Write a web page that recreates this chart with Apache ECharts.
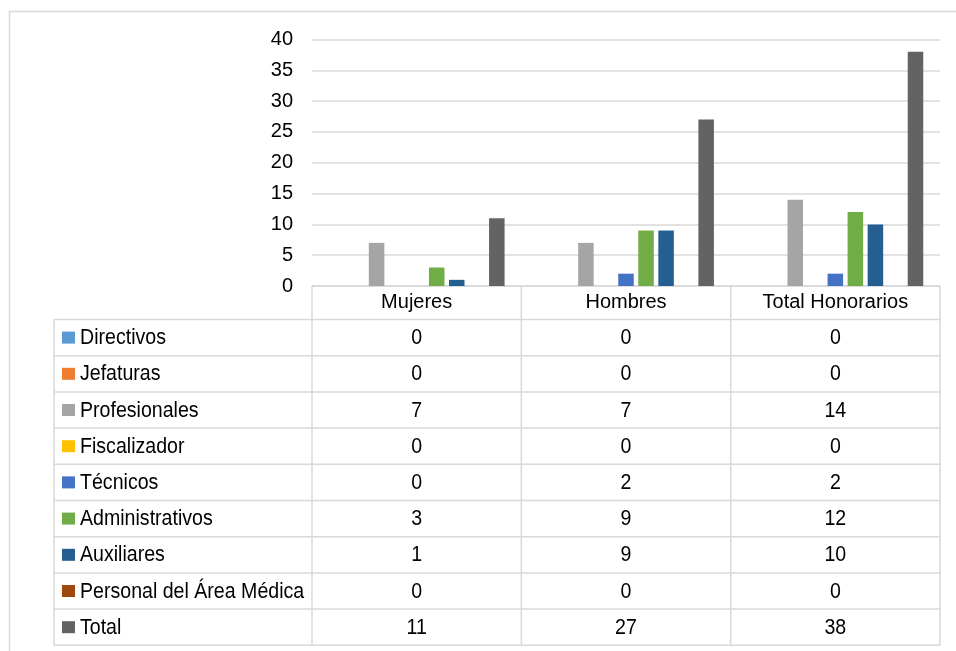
<!DOCTYPE html>
<html>
<head>
<meta charset="utf-8">
<script src="https://cdn.jsdelivr.net/npm/echarts@6/dist/echarts.min.js"></script>
<style>
html,body{margin:0;padding:0;background:#fff;}
#main{width:956px;height:651px;}
</style>
</head>
<body>
<div id="main"></div>
<script>
// ---- Data ----
const categories = ['Mujeres', 'Hombres', 'Total Honorarios'];
const seriesNames = ['Directivos', 'Jefaturas', 'Profesionales', 'Fiscalizador', 'Técnicos', 'Administrativos', 'Auxiliares', 'Personal del Área Médica', 'Total'];
const directivos = [0, 0, 0];
const jefaturas = [0, 0, 0];
const profesionales = [7, 7, 14];
const fiscalizador = [0, 0, 0];
const tecnicos = [0, 2, 2];
const administrativos = [3, 9, 12];
const auxiliares = [1, 9, 10];
const personalMedico = [0, 0, 0];
const total = [11, 27, 38];
const yTicks = { min: 0, max: 40, interval: 5 };

// ---- Styles ----
const palette = ['#5B9BD5', '#ED7D31', '#A5A5A5', '#FFC000', '#4472C4', '#70AD47', '#255E91', '#9E480E', '#636363'];
const seriesValues = [directivos, jefaturas, profesionales, fiscalizador, tecnicos, administrativos, auxiliares, personalMedico, total];
const FONT = "'Liberation Sans', Arial, sans-serif";
const LINE = '#d9d9d9';

const W = 956, H = 651;
const plotLeft = 312, plotRight = 940, plotTop = 39.5, plotBottom = 286;
const tableLeft = 54;
const headerTop = 286, rowsTop = 319.5, rowH = 36.2;
const textScaleX = 0.89;

const chart = echarts.init(document.getElementById('main'), null, { renderer: 'canvas' });

const option = {
  animation: false,
  backgroundColor: '#fff',
  grid: { left: plotLeft, right: W - plotRight, top: plotTop, bottom: H - plotBottom, containLabel: false },
  xAxis: {
    type: 'category',
    data: categories,
    axisLine: { show: false },
    axisTick: { show: false },
    axisLabel: { color: '#000', fontSize: 20, fontFamily: FONT, margin: 6 }
  },
  yAxis: {
    type: 'value',
    min: yTicks.min, max: yTicks.max, interval: yTicks.interval,
    axisLine: { show: false },
    axisTick: { show: false },
    axisLabel: { color: '#000', fontSize: 20, fontFamily: FONT, margin: 19 },
    splitLine: { lineStyle: { color: LINE, width: 1.5 } }
  },
  series: seriesNames.map((name, i) => ({
    name: name,
    type: 'bar',
    data: seriesValues[i],
    barGap: '29%',
    barCategoryGap: '16%',
    itemStyle: { color: palette[i] }
  }))
};
chart.setOption(option);

// ---- Data table (built from the same arrays) ----
const graphics = [];
const nRows = seriesNames.length;
const tableBottom = rowsTop + rowH * nRows;
const colX = [];
for (let c = 0; c <= categories.length; c++) colX.push(plotLeft + (plotRight - plotLeft) * c / categories.length);

function hline(x1, x2, y) {
  graphics.push({ type: 'line', shape: { x1: x1, y1: y, x2: x2, y2: y }, style: { stroke: LINE, lineWidth: 1.5 }, silent: true });
}
function vline(x, y1, y2) {
  graphics.push({ type: 'line', shape: { x1: x, y1: y1, x2: x, y2: y2 }, style: { stroke: LINE, lineWidth: 1.5 }, silent: true });
}
function label(text, x, y, align) {
  graphics.push({ type: 'text', x: x, y: y, scaleX: textScaleX, scaleY: 1,
    style: { x: 0, y: 0, text: text, fill: '#000', font: '22px ' + FONT, textAlign: align, textVerticalAlign: 'middle' }, silent: true });
}

// outer chart-area border
graphics.push({ type: 'rect', shape: { x: 9.5, y: 11.5, width: 1000, height: 1000 }, style: { fill: null, stroke: LINE, lineWidth: 1.5 }, silent: true, z: -1 });

hline(plotLeft, plotRight, headerTop);
for (let r = 0; r <= nRows; r++) hline(tableLeft, plotRight, rowsTop + r * rowH);
vline(tableLeft, rowsTop, tableBottom);
colX.forEach(x => vline(x, headerTop, tableBottom));

seriesNames.forEach((name, r) => {
  const cy = rowsTop + rowH * (r + 0.5);
  graphics.push({ type: 'rect', shape: { x: 62, y: cy - 6, width: 13, height: 12 }, style: { fill: palette[r] }, silent: true });
  label(name, 80, cy + 0.5, 'left');
  seriesValues[r].forEach((v, c) => {
    label(String(v), (colX[c] + colX[c + 1]) / 2, cy + 0.5, 'center');
  });
});

chart.setOption({ graphic: graphics });
</script>
</body>
</html>
